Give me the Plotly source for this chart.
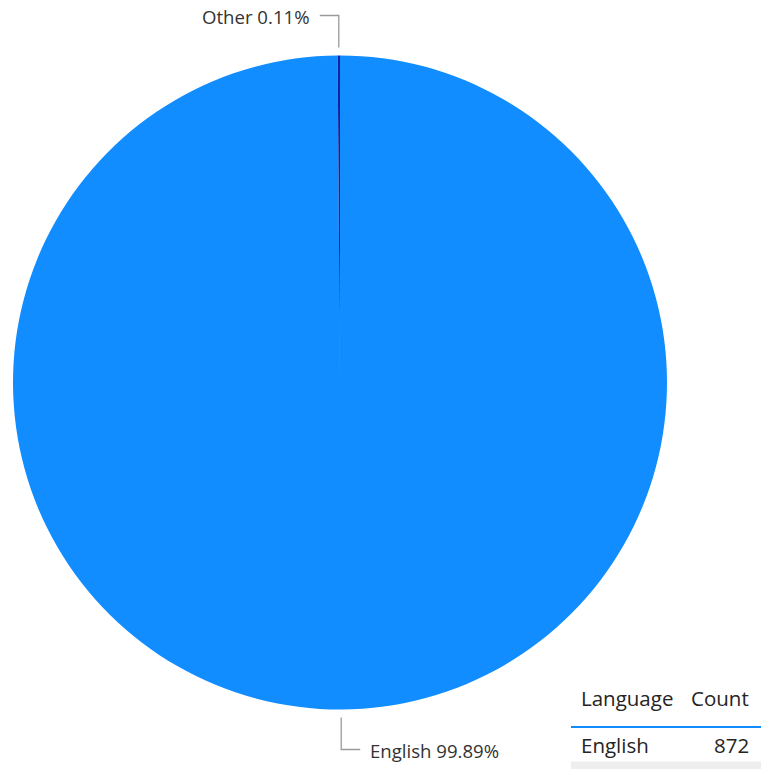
import math
import plotly.graph_objects as go

# ---- data ----
languages = ["English", "Other"]
counts = [872, 1]
colors = ["#118DFF", "#12239E"]
table_header = ["Language", "Count"]
table_rows = [("English", 872), ("Other", 1)]

W, H = 761, 769
CX, CY, R = 340, 382.5, 327

def px(x):
    return x / W

def py(y):
    return 1 - y / H

fig = go.Figure()
fig.add_trace(go.Pie(
    labels=languages, values=counts, sort=False, direction="clockwise", rotation=0,
    marker=dict(colors=colors, line=dict(width=0)),
    textinfo="none", hoverinfo="label+percent",
    domain=dict(x=[px(CX - R), px(CX + R)], y=[py(CY + R), py(CY - R)]),
    showlegend=False,
))

shapes = []
annotations = []
total = sum(counts)
cum = 0
label_font = dict(family="Open Sans, Noto Sans, sans-serif", size=18.6, color="#333333")
for lab, v in zip(languages, counts):
    frac = v / total
    mid = (cum + frac / 2) * 2 * math.pi
    cum += frac
    sx = CX + (R + 8) * math.sin(mid)
    vdir = -1 if math.cos(mid) > 0 else 1  # up for top, down for bottom
    sy = CY + vdir * (R + 8) * abs(math.cos(mid))
    ey = sy + vdir * 32
    side = 1 if math.sin(mid) > 0 else -1
    ex = sx + side * 19
    shapes.append(dict(type="path", xref="paper", yref="paper",
                       path=f"M {px(sx)},{py(sy)} L {px(sx)},{py(ey)} L {px(ex)},{py(ey)}",
                       line=dict(color="#9a9a9a", width=1.3)))
    pct = f"{frac * 100:.2f}%"
    annotations.append(dict(x=px(ex + side * 8), y=py(ey + 1), xref="paper", yref="paper",
                            text=f"{lab} {pct}", showarrow=False,
                            xanchor="left" if side > 0 else "right", yanchor="middle",
                            font=label_font))

# ---- table (bottom right) ----
tfont = dict(family="Open Sans, Noto Sans, sans-serif", size=20.5, color="#252423")
TX0, TX1 = 571, 761
annotations.append(dict(x=px(579), y=py(698), xref="paper", yref="paper", text=table_header[0],
                        showarrow=False, xanchor="left", yanchor="middle", font=tfont))
annotations.append(dict(x=px(751), y=py(698), xref="paper", yref="paper", text=table_header[1],
                        showarrow=False, xanchor="right", yanchor="middle", font=tfont))
shapes.append(dict(type="line", xref="paper", yref="paper", x0=px(TX0), x1=px(TX1),
                   y0=py(727), y1=py(727), line=dict(color="#118DFF", width=2)))
row_y = 745
row_h = 33
for i, (name, cnt) in enumerate(table_rows):
    yy = row_y + i * row_h
    if i % 2 == 1:
        shapes.append(dict(type="rect", xref="paper", yref="paper", x0=px(TX0), x1=px(TX1),
                           y0=py(yy - 16.5), y1=py(yy + 16.5), fillcolor="#eeeeee",
                           line=dict(width=0), layer="below"))
    if yy + 10 > H:
        continue  # row scrolled out of view in the original
    annotations.append(dict(x=px(579), y=py(yy), xref="paper", yref="paper", text=name,
                            showarrow=False, xanchor="left", yanchor="middle", font=tfont))
    annotations.append(dict(x=px(751), y=py(yy), xref="paper", yref="paper", text=str(cnt),
                            showarrow=False, xanchor="right", yanchor="middle", font=tfont))

fig.update_layout(width=W, height=H, margin=dict(l=0, r=0, t=0, b=0),
                  paper_bgcolor="white", plot_bgcolor="white",
                  shapes=shapes, annotations=annotations)
fig.write_html("out.html", config={"displayModeBar": False},
               post_script="document.body.style.margin='0';document.body.style.overflow='hidden';")
